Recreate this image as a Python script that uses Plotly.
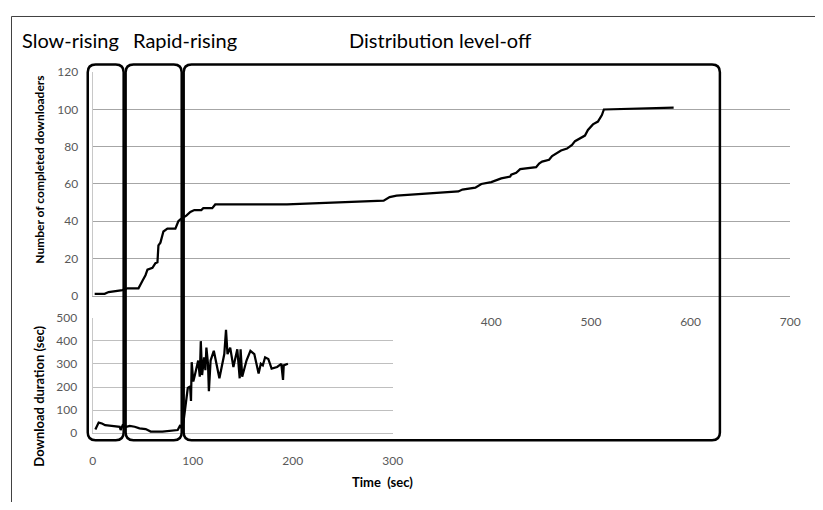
import plotly.graph_objects as go

# ---------------- data ----------------
# Top panel: number of completed downloaders vs time (sec)
time_completed = [2, 12, 16, 27, 30, 35, 46, 50, 53, 55, 60, 63, 65, 66, 68, 71, 75, 83, 86, 88,
                  91, 94, 98, 102, 109, 111, 120, 123, 195, 292, 298, 305, 367, 371, 384, 390, 400, 410, 419, 420,
                  425, 429, 445, 448, 451, 458, 461, 470, 476, 481, 484, 494, 497, 502, 507, 511, 513, 583]
completed_downloaders = [1, 1, 2, 2.5, 3, 4, 4, 8, 11, 14, 15, 17.5, 18, 27, 28.5, 34.5, 36, 36, 40, 41,
                         42, 43, 45, 46, 46, 47, 47, 49, 49, 51, 53, 53.7, 56, 57, 58, 60, 61, 63, 64, 65,
                         66, 68, 69, 71, 72, 73, 75, 78, 79, 81, 83, 86, 89, 92, 93.5, 97, 100, 101]

# Bottom panel: download duration (sec) vs time (sec)
time_duration = [2.7, 6, 9.3, 12.5, 19, 27, 28, 30, 33.7, 37, 42, 46.8, 53, 58, 69.7, 79.4, 85, 87.6, 89, 90.8,
                 95.1, 97.4, 98.3, 99, 100.6, 102.2, 103.9, 105.5, 107.1, 108.1, 109.4, 111.4, 112.7, 113.7, 115.3,
                 116.2, 117.9, 121.1, 126.7, 131.6, 133.3, 134.8, 137.5, 140.7, 144.6, 147, 147.9, 149.5, 153.8,
                 157.7, 161.6, 165.9, 168.1, 170.1, 172.4, 175.6, 178.9, 184.4, 188.6, 190.3, 191, 195.2]
download_duration = [16, 46, 42, 35, 32, 28, 14, 35, 28, 32, 28, 21, 18, 7, 7, 10, 14, 35, 21, 50,
                     196, 203, 140, 308, 224, 252, 294, 315, 245, 399, 252, 329, 273, 371, 301,
                     182, 315, 357, 238, 343, 448, 343, 371, 287, 364, 238, 364, 245, 315,
                     357, 343, 259, 301, 294, 329, 322, 280, 287, 301, 231, 294, 301]

top_x_ticks = [400, 500, 600, 700]
top_y_ticks = [0, 20, 40, 60, 80, 100, 120]
bottom_x_ticks = [0, 100, 200, 300]
bottom_y_ticks = [0, 100, 200, 300, 400, 500]

phase_labels = ["Slow-rising", "Rapid-rising", "Distribution level-off"]
y_title_top = "Number of completed downloaders"
y_title_bottom = "Download duration (sec)"
x_title = "Time\u00a0 (sec)"

# ---------------- layout helpers ----------------
# The page keeps the browser's default 8px body margin, so the figure is
# sized to fit the 823x510 window exactly and positions are given in
# window pixels, shifted by that margin.
WIN_W, WIN_H = 823, 510
OFF = 8
W, H = WIN_W - 2 * OFF, WIN_H - 2 * OFF


def PX(x):
    return (x - OFF) / W


def PY(y):
    return 1 - (y - OFF) / H


def rrect(x0, x1, top, bot, r):
    pts = [("M", (x0 + r, top)), ("L", (x1 - r, top)), ("Q", (x1, top), (x1, top + r)),
           ("L", (x1, bot - r)), ("Q", (x1, bot), (x1 - r, bot)), ("L", (x0 + r, bot)),
           ("Q", (x0, bot), (x0, bot - r)), ("L", (x0, top + r)), ("Q", (x0, top), (x0 + r, top))]
    s = ""
    for p in pts:
        cmd = p[0]
        coords = " ".join(f"{PX(a):.5f},{PY(b):.5f}" for a, b in p[1:])
        s += f"{cmd} {coords} "
    return s + "Z"


FONT = "Lato, 'Open Sans', sans-serif"
tickfont = dict(family=FONT, size=12, color="#595959")

fig = go.Figure()
fig.add_trace(go.Scatter(x=time_completed, y=completed_downloaders, mode="lines",
                         line=dict(color="black", width=2.25), xaxis="x", yaxis="y",
                         showlegend=False, hoverinfo="skip"))
fig.add_trace(go.Scatter(x=time_duration, y=download_duration, mode="lines",
                         line=dict(color="black", width=2.25), xaxis="x2", yaxis="y2",
                         showlegend=False, hoverinfo="skip"))

fig.update_layout(
    width=W, height=H,
    margin=dict(l=0, r=0, t=0, b=0),
    paper_bgcolor="white", plot_bgcolor="white",
    hovermode=False,
    xaxis=dict(domain=[PX(91), PX(800)], range=[0, 700], tickvals=top_x_ticks, anchor="y",
               showgrid=False, zeroline=False, showline=True, linecolor="#a6a6a6", linewidth=1,
               ticks="", ticklabelstandoff=15, tickfont=tickfont),
    yaxis=dict(domain=[PY(296.5), PY(66)], range=[0, 120], tickvals=top_y_ticks, anchor="x",
               showgrid=True, gridcolor="#a6a6a6", gridwidth=1, zeroline=False,
               showline=True, linecolor="#c8c8c8", ticks="", ticklabelstandoff=11, tickfont=tickfont),
    xaxis2=dict(domain=[PX(91), PX(396)], range=[0, 300], tickvals=bottom_x_ticks, anchor="y2",
                showgrid=False, zeroline=False, showline=True, linecolor="#bfbfbf", linewidth=1,
                ticks="", ticklabelstandoff=16, tickfont=tickfont),
    yaxis2=dict(domain=[PY(438.3), PY(319.3)], range=[0, 500], tickvals=bottom_y_ticks, anchor="x2",
                showgrid=True, gridcolor="#bfbfbf", gridwidth=1, zeroline=False,
                showline=True, linecolor="#c8c8c8", ticks="", ticklabelstandoff=12, tickfont=tickfont),
)

shapes = []
# outer chart frame (drawn at the figure's top/left edge)
shapes.append(dict(type="path", xref="paper", yref="paper",
                   path=f"M {PX(8.5)},{PY(520)} L {PX(8.5)},{PY(8.5)} L {PX(830)},{PY(8.5)}",
                   line=dict(color="#404040", width=1)))
# phase boxes
for x0, x1 in [(86, 122.5), (124.5, 181.5), (183.5, 728.5)]:
    shapes.append(dict(type="path", xref="paper", yref="paper",
                       path=rrect(x0, x1, 58, 445.5, 8),
                       line=dict(color="black", width=2.5), layer="above"))
fig.update_layout(shapes=shapes)

ann = []
for label, x in zip(phase_labels, [17, 130, 349]):
    ann.append(dict(text=label, x=PX(x), y=PY(33), xref="paper", yref="paper",
                    xanchor="left", yanchor="middle", showarrow=False,
                    font=dict(family=FONT, size=20, color="black")))
ann.append(dict(text=y_title_top, x=PX(37), y=PY(167), xref="paper", yref="paper",
                textangle=-90, showarrow=False, xanchor="center", yanchor="middle",
                font=dict(family=FONT, size=12, color="black", weight="bold")))
ann.append(dict(text=y_title_bottom, x=PX(37), y=PY(400), xref="paper", yref="paper",
                textangle=-90, showarrow=False, xanchor="center", yanchor="middle",
                font=dict(family=FONT, size=13, color="black", weight="bold")))
ann.append(dict(text=x_title, x=PX(386), y=PY(489), xref="paper", yref="paper",
                showarrow=False, xanchor="center", yanchor="middle",
                font=dict(family=FONT, size=13, color="black", weight="bold")))
fig.update_layout(annotations=ann)

fig.write_html("out.html", config={"displayModeBar": False, "staticPlot": True})
